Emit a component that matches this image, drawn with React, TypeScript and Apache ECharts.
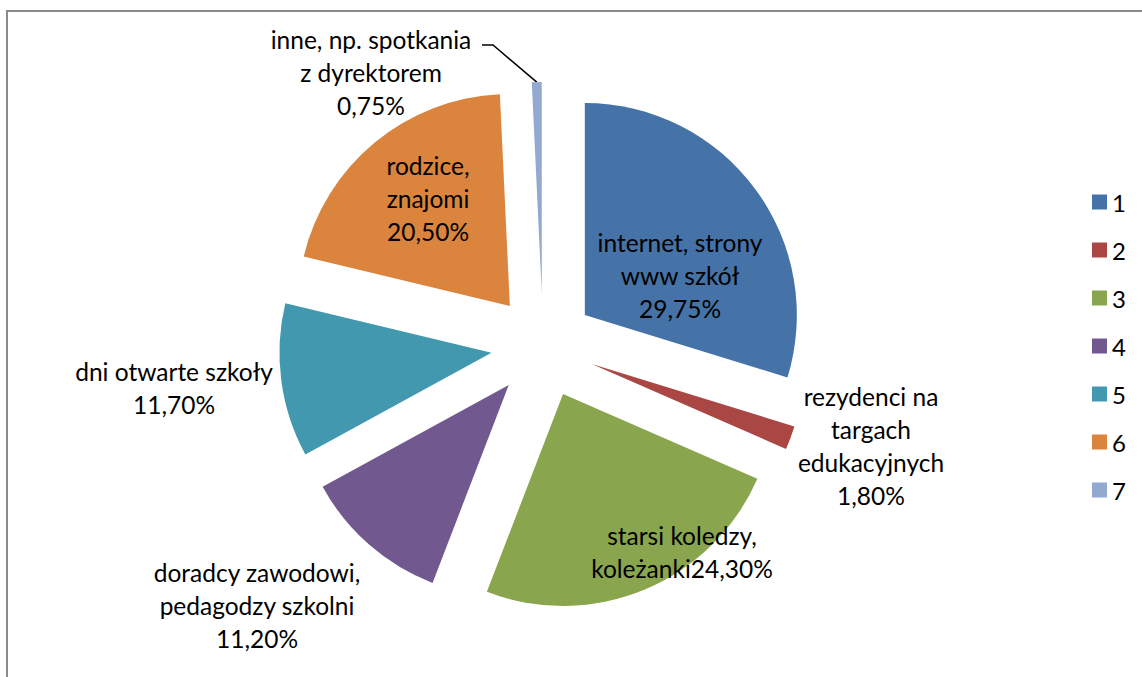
import React, { useEffect, useRef } from "react";
import * as echarts from "echarts";

// ---- data ----
const LEGEND_NAMES = ["1", "2", "3", "4", "5", "6", "7"];
const VALUES = [29.75, 1.8, 24.3, 11.2, 11.7, 20.5, 0.75];
const LABEL_NAMES = [
  "internet, strony\nwww szkół\n",
  "rezydenci na\ntargach\nedukacyjnych\n",
  "starsi koledzy,\nkoleżanki",
  "doradcy zawodowi,\npedagodzy szkolni\n",
  "dni otwarte szkoły\n",
  "rodzice,\nznajomi\n",
  "inne, np. spotkania\nz dyrektorem\n",
];

// ---- style / layout ----
const COLORS = ["#4572A7", "#AA4643", "#89A54E", "#71588F", "#4198AF", "#DB843D", "#93A9CF"];
const CENTER = [543, 346];
const RADIUS = 212;
const EXPLODE = 52;
const FONT = "Lato, 'Open Sans', sans-serif";
const LABEL_POS: [number, number][] = [
  [680, 275],
  [871, 446],
  [682, 552],
  [257, 605],
  [174, 388],
  [428, 198],
  [371, 72],
];
const LEADER_ELBOW: [number, number][] = [
  [482, 45],
  [493, 45],
];

function fmt(v: number) {
  return v.toFixed(2).replace(".", ",") + "%";
}

function midAngleDeg(i: number) {
  const total = VALUES.reduce((a, b) => a + b, 0);
  let acc = 0;
  for (let k = 0; k < i; k++) acc += VALUES[k];
  return ((acc + VALUES[i] / 2) / total) * 360;
}

export default function App() {
  const ref = useRef<HTMLDivElement>(null);
  useEffect(() => {
    if (!ref.current) return;
    const chart = echarts.init(ref.current, undefined, { renderer: "svg" });
    const tipIdx = 6;
    const m = (midAngleDeg(tipIdx) * Math.PI) / 180;
    const tip = [
      CENTER[0] + (EXPLODE + RADIUS) * Math.sin(m),
      CENTER[1] - (EXPLODE + RADIUS) * Math.cos(m),
    ];
    chart.setOption({
      animation: false,
      backgroundColor: "#ffffff",
      graphic: [
        {
          type: "rect",
          shape: { x: 7, y: 11, width: 1300, height: 900 },
          style: { fill: "none", stroke: "#8a8a8a", lineWidth: 2 },
          silent: true,
          z: -10,
        },
      ],
      legend: {
        orient: "vertical",
        left: 1087,
        top: 185,
        itemWidth: 15,
        itemHeight: 15,
        itemGap: 24,
        icon: "rect",
        selectedMode: false,
        data: LEGEND_NAMES,
        textStyle: { fontFamily: FONT, fontSize: 24, lineHeight: 22, color: "#000" },
      },
      series: [
        {
          name: "slices",
          type: "pie",
          center: CENTER,
          radius: RADIUS,
          startAngle: 90,
          clockwise: true,
          selectedMode: "multiple",
          selectedOffset: EXPLODE,
          emphasis: { disabled: true },
          select: { itemStyle: { borderWidth: 0 } },
          label: { show: false },
          labelLine: { show: false },
          data: VALUES.map((v, i) => ({
            value: v,
            name: LEGEND_NAMES[i],
            selected: true,
            itemStyle: { color: COLORS[i] },
          })),
        },
        {
          name: "labels",
          type: "pie",
          center: CENTER,
          radius: RADIUS,
          startAngle: 90,
          clockwise: true,
          silent: true,
          selectedMode: false,
          avoidLabelOverlap: false,
          emphasis: { disabled: true },
          itemStyle: { color: "rgba(0,0,0,0)" },
          label: {
            show: true,
            position: "outside",
            fontFamily: FONT,
            fontSize: 24.5,
            lineHeight: 33,
            color: "#000",
            align: "center",
            formatter: (p: any) => LABEL_NAMES[p.dataIndex] + fmt(p.value),
          },
          labelLine: { show: false },
          labelLayout: (p: any) => {
            const i = p.dataIndex;
            const res: any = {
              x: LABEL_POS[i][0],
              y: LABEL_POS[i][1],
              align: "center",
              verticalAlign: "middle",
            };
            if (i === tipIdx) {
              res.labelLinePoints = [LEADER_ELBOW[0], LEADER_ELBOW[1], tip];
            }
            return res;
          },
          data: VALUES.map((v, i) => ({
            value: v,
            name: LEGEND_NAMES[i],
            labelLine:
              i === tipIdx
                ? { show: true, lineStyle: { color: "#000", width: 1.5 } }
                : { show: false },
          })),
        },
      ],
    });
    return () => chart.dispose();
  }, []);
  return (
    <div
      ref={ref}
      style={{ position: "fixed", left: 0, top: 0, width: 1142, height: 677 }}
    />
  );
}
